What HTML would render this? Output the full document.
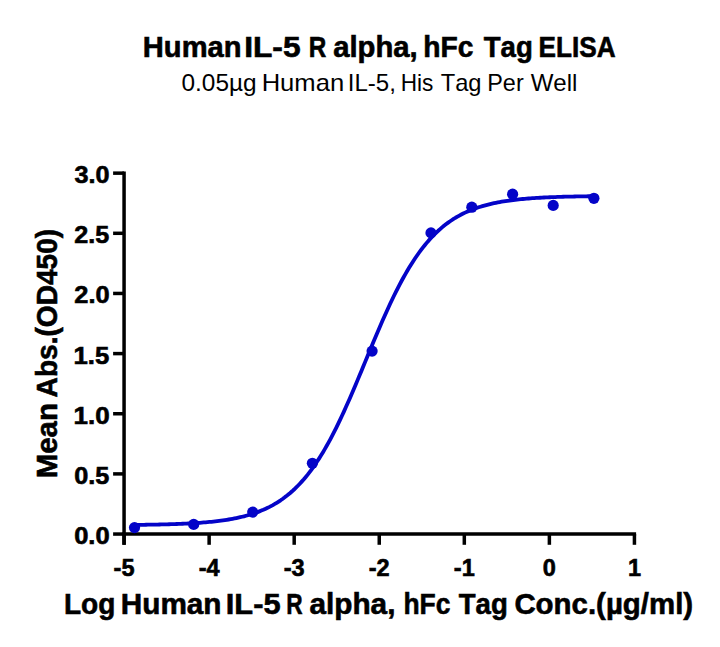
<!DOCTYPE html><html><head><meta charset="utf-8"><style>html,body{margin:0;padding:0;background:#fff;}svg{display:block;}</style></head><body><svg width="720" height="647" viewBox="0 0 720 647">
<rect width="720" height="647" fill="#fff"/>
<g stroke="#000" stroke-width="3.5" fill="none" stroke-linecap="butt">
<path d="M124.07,171.4 V544.8"/>
<path d="M122.3,534.05 H636.1"/>
<path d="M113.1,534.05 H124.07"/>
<path d="M113.1,473.90 H124.07"/>
<path d="M113.1,413.75 H124.07"/>
<path d="M113.1,353.60 H124.07"/>
<path d="M113.1,293.45 H124.07"/>
<path d="M113.1,233.30 H124.07"/>
<path d="M113.1,173.15 H124.07"/>
<path d="M124.07,534.05 V544.8"/>
<path d="M209.13,534.05 V544.8"/>
<path d="M294.19,534.05 V544.8"/>
<path d="M379.25,534.05 V544.8"/>
<path d="M464.31,534.05 V544.8"/>
<path d="M549.37,534.05 V544.8"/>
<path d="M634.43,534.05 V544.8"/>
</g>
<path d="M134.50,524.90 L136.42,524.88 L138.34,524.86 L140.27,524.83 L142.19,524.81 L144.11,524.78 L146.03,524.75 L147.96,524.72 L149.88,524.69 L151.80,524.66 L153.72,524.62 L155.64,524.58 L157.57,524.54 L159.49,524.50 L161.41,524.46 L163.33,524.41 L165.25,524.36 L167.18,524.31 L169.10,524.25 L171.02,524.19 L172.94,524.13 L174.87,524.06 L176.79,523.99 L178.71,523.92 L180.63,523.84 L182.55,523.76 L184.48,523.67 L186.40,523.58 L188.32,523.48 L190.24,523.38 L192.17,523.27 L194.09,523.16 L196.01,523.03 L197.93,522.91 L199.85,522.77 L201.78,522.63 L203.70,522.47 L205.62,522.31 L207.54,522.14 L209.46,521.96 L211.39,521.77 L213.31,521.57 L215.23,521.36 L217.15,521.13 L219.08,520.90 L221.00,520.65 L222.92,520.38 L224.84,520.10 L226.76,519.81 L228.69,519.50 L230.61,519.17 L232.53,518.82 L234.45,518.45 L236.38,518.06 L238.30,517.65 L240.22,517.22 L242.14,516.77 L244.06,516.29 L245.99,515.78 L247.91,515.25 L249.83,514.68 L251.75,514.09 L253.67,513.46 L255.60,512.80 L257.52,512.11 L259.44,511.37 L261.36,510.60 L263.29,509.79 L265.21,508.93 L267.13,508.03 L269.05,507.09 L270.97,506.09 L272.90,505.05 L274.82,503.95 L276.74,502.79 L278.66,501.58 L280.59,500.31 L282.51,498.98 L284.43,497.58 L286.35,496.11 L288.27,494.57 L290.20,492.96 L292.12,491.28 L294.04,489.52 L295.96,487.68 L297.88,485.76 L299.81,483.75 L301.73,481.66 L303.65,479.48 L305.57,477.20 L307.50,474.84 L309.42,472.38 L311.34,469.82 L313.26,467.17 L315.18,464.42 L317.11,461.56 L319.03,458.61 L320.95,455.56 L322.87,452.40 L324.80,449.15 L326.72,445.79 L328.64,442.33 L330.56,438.78 L332.48,435.13 L334.41,431.38 L336.33,427.55 L338.25,423.62 L340.17,419.61 L342.09,415.51 L344.02,411.34 L345.94,407.09 L347.86,402.78 L349.78,398.40 L351.71,393.97 L353.63,389.48 L355.55,384.95 L357.47,380.38 L359.39,375.79 L361.32,371.16 L363.24,366.52 L365.16,361.87 L367.08,357.22 L369.01,352.57 L370.93,347.94 L372.85,343.32 L374.77,338.74 L376.69,334.18 L378.62,329.67 L380.54,325.21 L382.46,320.80 L384.38,316.45 L386.31,312.16 L388.23,307.94 L390.15,303.80 L392.07,299.74 L393.99,295.77 L395.92,291.88 L397.84,288.08 L399.76,284.37 L401.68,280.76 L403.60,277.25 L405.53,273.84 L407.45,270.52 L409.37,267.31 L411.29,264.20 L413.22,261.18 L415.14,258.27 L417.06,255.46 L418.98,252.75 L420.90,250.14 L422.83,247.62 L424.75,245.20 L426.67,242.88 L428.59,240.64 L430.52,238.50 L432.44,236.44 L434.36,234.47 L436.28,232.59 L438.20,230.78 L440.13,229.05 L442.05,227.40 L443.97,225.82 L445.89,224.31 L447.81,222.88 L449.74,221.50 L451.66,220.20 L453.58,218.95 L455.50,217.76 L457.43,216.63 L459.35,215.56 L461.27,214.53 L463.19,213.56 L465.11,212.63 L467.04,211.75 L468.96,210.91 L470.88,210.12 L472.80,209.36 L474.73,208.65 L476.65,207.97 L478.57,207.32 L480.49,206.71 L482.41,206.13 L484.34,205.58 L486.26,205.05 L488.18,204.56 L490.10,204.09 L492.02,203.64 L493.95,203.22 L495.87,202.82 L497.79,202.44 L499.71,202.08 L501.64,201.74 L503.56,201.42 L505.48,201.12 L507.40,200.83 L509.32,200.56 L511.25,200.30 L513.17,200.05 L515.09,199.82 L517.01,199.60 L518.94,199.39 L520.86,199.20 L522.78,199.01 L524.70,198.84 L526.62,198.67 L528.55,198.51 L530.47,198.36 L532.39,198.22 L534.31,198.09 L536.23,197.96 L538.16,197.84 L540.08,197.73 L542.00,197.63 L543.92,197.52 L545.85,197.43 L547.77,197.34 L549.69,197.25 L551.61,197.17 L553.53,197.10 L555.46,197.03 L557.38,196.96 L559.30,196.89 L561.22,196.83 L563.15,196.77 L565.07,196.72 L566.99,196.67 L568.91,196.62 L570.83,196.57 L572.76,196.53 L574.68,196.49 L576.60,196.45 L578.52,196.41 L580.44,196.38 L582.37,196.35 L584.29,196.32 L586.21,196.29 L588.13,196.26 L590.06,196.23 L591.98,196.21 L593.90,196.18" stroke="#0404c8" stroke-width="3.8" fill="none" stroke-linejoin="round"/>
<circle cx="134.50" cy="527.60" r="5.6" fill="#0404c8"/>
<circle cx="193.70" cy="524.40" r="5.6" fill="#0404c8"/>
<circle cx="252.70" cy="512.10" r="5.6" fill="#0404c8"/>
<circle cx="312.40" cy="463.30" r="5.6" fill="#0404c8"/>
<circle cx="372.10" cy="351.10" r="5.6" fill="#0404c8"/>
<circle cx="431.00" cy="232.90" r="5.6" fill="#0404c8"/>
<circle cx="471.80" cy="207.20" r="5.6" fill="#0404c8"/>
<circle cx="512.60" cy="194.20" r="5.6" fill="#0404c8"/>
<circle cx="553.20" cy="205.40" r="5.6" fill="#0404c8"/>
<circle cx="593.90" cy="198.30" r="5.6" fill="#0404c8"/>
<g font-family="Liberation Sans" fill="#000" style="font-kerning:none">
<text x="74.19" y="543.95" font-size="23.50" font-weight="bold" stroke="#000" stroke-width="0.60" textLength="35.45" lengthAdjust="spacingAndGlyphs">0.0</text>
<text x="74.20" y="483.80" font-size="23.50" font-weight="bold" stroke="#000" stroke-width="0.60" textLength="35.10" lengthAdjust="spacingAndGlyphs">0.5</text>
<text x="73.56" y="423.65" font-size="23.50" font-weight="bold" stroke="#000" stroke-width="0.60" textLength="36.10" lengthAdjust="spacingAndGlyphs">1.0</text>
<text x="73.58" y="363.50" font-size="23.50" font-weight="bold" stroke="#000" stroke-width="0.60" textLength="35.73" lengthAdjust="spacingAndGlyphs">1.5</text>
<text x="74.32" y="303.35" font-size="23.50" font-weight="bold" stroke="#000" stroke-width="0.60" textLength="35.32" lengthAdjust="spacingAndGlyphs">2.0</text>
<text x="74.33" y="243.20" font-size="23.50" font-weight="bold" stroke="#000" stroke-width="0.60" textLength="34.97" lengthAdjust="spacingAndGlyphs">2.5</text>
<text x="74.62" y="183.05" font-size="23.50" font-weight="bold" stroke="#000" stroke-width="0.60" textLength="35.01" lengthAdjust="spacingAndGlyphs">3.0</text>
<text x="124.07" y="576.2" font-size="23.5" font-weight="bold" stroke="#000" stroke-width="0.60" text-anchor="middle">-5</text>
<text x="209.13" y="576.2" font-size="23.5" font-weight="bold" stroke="#000" stroke-width="0.60" text-anchor="middle">-4</text>
<text x="294.19" y="576.2" font-size="23.5" font-weight="bold" stroke="#000" stroke-width="0.60" text-anchor="middle">-3</text>
<text x="379.25" y="576.2" font-size="23.5" font-weight="bold" stroke="#000" stroke-width="0.60" text-anchor="middle">-2</text>
<text x="464.31" y="576.2" font-size="23.5" font-weight="bold" stroke="#000" stroke-width="0.60" text-anchor="middle">-1</text>
<text x="549.37" y="576.2" font-size="23.5" font-weight="bold" stroke="#000" stroke-width="0.60" text-anchor="middle">0</text>
<text x="634.43" y="576.2" font-size="23.5" font-weight="bold" stroke="#000" stroke-width="0.60" text-anchor="middle">1</text>
<text x="142.85" y="56.80" font-size="28.80" font-weight="bold" stroke="#000" stroke-width="0.60" textLength="98.65" lengthAdjust="spacingAndGlyphs">Human</text>
<text x="244.18" y="56.80" font-size="28.80" font-weight="bold" stroke="#000" stroke-width="0.60" textLength="56.41" lengthAdjust="spacingAndGlyphs">IL-5</text>
<text x="308.68" y="56.80" font-size="28.80" font-weight="bold" stroke="#000" stroke-width="0.60" textLength="17.52" lengthAdjust="spacingAndGlyphs">R</text>
<text x="333.19" y="56.80" font-size="28.80" font-weight="bold" stroke="#000" stroke-width="0.60" textLength="84.46" lengthAdjust="spacingAndGlyphs">alpha,</text>
<text x="423.33" y="56.80" font-size="28.80" font-weight="bold" stroke="#000" stroke-width="0.60" textLength="50.20" lengthAdjust="spacingAndGlyphs">hFc</text>
<text x="483.74" y="56.80" font-size="28.80" font-weight="bold" stroke="#000" stroke-width="0.60" textLength="49.06" lengthAdjust="spacingAndGlyphs">Tag</text>
<text x="538.55" y="56.80" font-size="28.80" font-weight="bold" stroke="#000" stroke-width="0.60" textLength="77.14" lengthAdjust="spacingAndGlyphs">ELISA</text>
<text x="181.55" y="91.40" font-size="23.60" textLength="75.02" lengthAdjust="spacingAndGlyphs">0.05µg</text>
<text x="261.65" y="91.40" font-size="23.60" textLength="82.51" lengthAdjust="spacingAndGlyphs">Human</text>
<text x="347.78" y="91.40" font-size="23.60" textLength="48.13" lengthAdjust="spacingAndGlyphs">IL-5,</text>
<text x="400.64" y="91.40" font-size="23.60" textLength="32.67" lengthAdjust="spacingAndGlyphs">His</text>
<text x="440.72" y="91.40" font-size="23.60" textLength="40.81" lengthAdjust="spacingAndGlyphs">Tag</text>
<text x="487.28" y="91.40" font-size="23.60" textLength="36.41" lengthAdjust="spacingAndGlyphs">Per</text>
<text x="530.69" y="91.40" font-size="23.60" textLength="46.71" lengthAdjust="spacingAndGlyphs">Well</text>
<text x="63.92" y="613.50" font-size="29.50" font-weight="bold" stroke="#000" stroke-width="0.60" textLength="51.40" lengthAdjust="spacingAndGlyphs">Log</text>
<text x="120.81" y="613.50" font-size="29.50" font-weight="bold" stroke="#000" stroke-width="0.60" textLength="100.73" lengthAdjust="spacingAndGlyphs">Human</text>
<text x="225.74" y="613.50" font-size="29.50" font-weight="bold" stroke="#000" stroke-width="0.60" textLength="54.82" lengthAdjust="spacingAndGlyphs">IL-5</text>
<text x="286.28" y="613.50" font-size="29.50" font-weight="bold" stroke="#000" stroke-width="0.60" textLength="16.38" lengthAdjust="spacingAndGlyphs">R</text>
<text x="309.43" y="613.50" font-size="29.50" font-weight="bold" stroke="#000" stroke-width="0.60" textLength="86.01" lengthAdjust="spacingAndGlyphs">alpha,</text>
<text x="403.45" y="613.50" font-size="29.50" font-weight="bold" stroke="#000" stroke-width="0.60" textLength="47.02" lengthAdjust="spacingAndGlyphs">hFc</text>
<text x="458.74" y="613.50" font-size="29.50" font-weight="bold" stroke="#000" stroke-width="0.60" textLength="49.06" lengthAdjust="spacingAndGlyphs">Tag</text>
<text x="514.39" y="613.50" font-size="29.50" font-weight="bold" stroke="#000" stroke-width="0.60" textLength="178.77" lengthAdjust="spacingAndGlyphs">Conc.(µg/ml)</text>
<g transform="rotate(-90)">
<text x="-478.27" y="57.20" font-size="29.20" font-weight="bold" stroke="#000" stroke-width="0.60" textLength="75.09" lengthAdjust="spacingAndGlyphs">Mean</text>
<text x="-397.40" y="57.20" font-size="29.20" font-weight="bold" stroke="#000" stroke-width="0.60" textLength="168.50" lengthAdjust="spacingAndGlyphs">Abs.(OD450)</text>
</g>
</g>
</svg></body></html>
